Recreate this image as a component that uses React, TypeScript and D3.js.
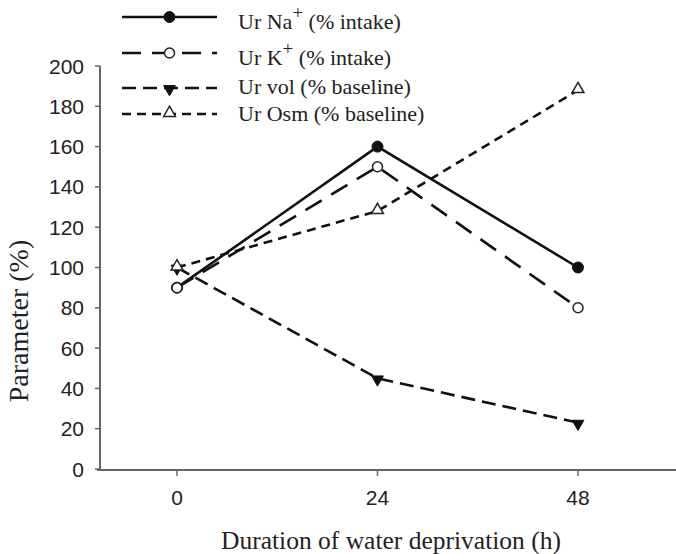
import React from "react";
import * as d3 from "d3";

const hours = [0, 24, 48];
const naValues = [90, 160, 100];
const kValues = [90, 150, 80];
const volValues = [100, 45, 23];
const osmValues = [100, 128, 188];
const yTicks = [0, 20, 40, 60, 80, 100, 120, 140, 160, 180, 200];
const xTicks = [0, 24, 48];
const seriesNames = ["Ur Na", "Ur K", "Ur vol (% baseline)", "Ur Osm (% baseline)"];

const W = 676;
const H = 554;

export default function App() {
  const pxPerHour = 401 / 48;
  const x = d3.scaleLinear().domain([-77 / pxPerHour, 499 / pxPerHour]).range([100, 676]);
  const y = d3.scaleLinear().domain([0, 200]).range([469, 66]);

  const series = [
    { name: seriesNames[0], values: naValues, dash: "none", marker: "filledCircle" },
    { name: seriesNames[1], values: kValues, dash: "19,11", marker: "openCircle" },
    { name: seriesNames[2], values: volValues, dash: "14,7", marker: "filledTri" },
    { name: seriesNames[3], values: osmValues, dash: "9,6", marker: "openTri" },
  ];

  const line = d3
    .line<[number, number]>()
    .x((d) => x(d[0]))
    .y((d) => y(d[1]));

  const tri = d3.symbol().type(d3.symbolTriangle).size(60)();

  const marker = (kind: string, cx: number, cy: number, key: string) => {
    if (kind === "filledCircle")
      return <circle key={key} cx={cx} cy={cy} r={5.5} fill="#111" stroke="#111" strokeWidth={1} />;
    if (kind === "openCircle")
      return <circle key={key} cx={cx} cy={cy} r={5} fill="#fff" stroke="#222" strokeWidth={1.5} />;
    if (kind === "filledTri")
      return (
        <path key={key} d={tri || ""} transform={`translate(${cx},${cy + 1}) rotate(180)`} fill="#111" stroke="#111" strokeWidth={1} />
      );
    return (
      <path key={key} d={tri || ""} transform={`translate(${cx},${cy - 1})`} fill="#fff" stroke="#222" strokeWidth={1.5} />
    );
  };

  const legendRows = [
    { lineY: 17, textY: 29, label: <>Ur Na<tspan dy={-10} fontSize={19}>+</tspan><tspan dy={10}> (% intake)</tspan></> },
    { lineY: 53, textY: 65, label: <>Ur K<tspan dy={-10} fontSize={19}>+</tspan><tspan dy={10}> (% intake)</tspan></> },
    { lineY: 88, textY: 94, label: <>Ur vol (% baseline)</> },
    { lineY: 114, textY: 121, label: <>Ur Osm (% baseline)</> },
  ];

  return (
    <div style={{ position: "absolute", left: 0, top: 0 }}>
      <svg width={W} height={H} style={{ display: "block", background: "#fff" }}>
        {/* axes */}
        <g stroke="#666" strokeWidth={2} fill="none">
          <line x1={100} x2={100} y1={y(200)} y2={470} />
          <line x1={97} x2={676} y1={470} y2={470} />
          {yTicks.map((t) => (
            <line key={"yt" + t} x1={95} x2={100} y1={y(t)} y2={y(t)} strokeWidth={1.5} />
          ))}
          {xTicks.map((t) => (
            <line key={"xt" + t} x1={x(t)} x2={x(t)} y1={470} y2={476} strokeWidth={1.5} />
          ))}
        </g>
        <g fontFamily="'Liberation Sans', Arial, sans-serif" fontSize={21} fill="#222">
          {yTicks.map((t) => (
            <text key={"yl" + t} x={84} y={y(t)} textAnchor="end" dominantBaseline="central">
              {t}
            </text>
          ))}
          {xTicks.map((t) => (
            <text key={"xl" + t} x={x(t)} y={505} textAnchor="middle">
              {t}
            </text>
          ))}
        </g>
        <g fontFamily="'Liberation Serif', 'Times New Roman', serif" fill="#222">
          <text x={391} y={549} textAnchor="middle" fontSize={25.5}>
            Duration of water deprivation (h)
          </text>
          <text transform={`translate(28,321) rotate(-90)`} textAnchor="middle" fontSize={28}>
            Parameter (%)
          </text>
        </g>

        {/* series */}
        {series.map((s, i) => (
          <g key={"s" + i}>
            <path
              d={line(hours.map((h, j) => [h, s.values[j]] as [number, number])) || ""}
              fill="none"
              stroke="#111"
              strokeWidth={2.6}
              strokeDasharray={s.dash}
            />
          </g>
        ))}
        {series.map((s, i) => (
          <g key={"m" + i}>{hours.map((h, j) => marker(s.marker, x(h), y(s.values[j]), `${i}-${j}`))}</g>
        ))}

        {/* legend */}
        {series.map((s, i) => (
          <g key={"lg" + i}>
            <line x1={122} x2={217} y1={legendRows[i].lineY} y2={legendRows[i].lineY} stroke="#111" strokeWidth={2.6} strokeDasharray={s.dash} />
            {marker(s.marker, 169.5, legendRows[i].lineY, "lm" + i)}
            <text x={238} y={legendRows[i].textY} fontFamily="'Liberation Serif', 'Times New Roman', serif" fontSize={22} fill="#222">
              {legendRows[i].label}
            </text>
          </g>
        ))}
      </svg>
    </div>
  );
}
